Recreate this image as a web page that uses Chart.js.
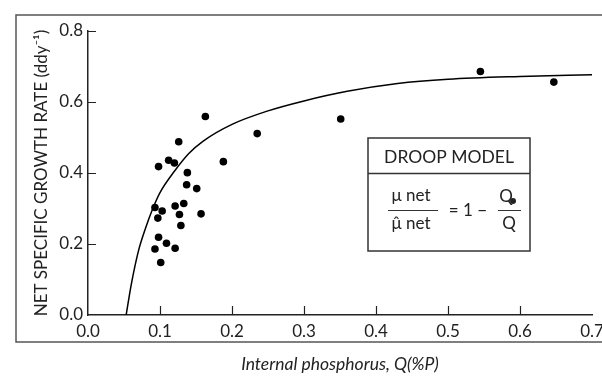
<!DOCTYPE html>
<html>
<head>
<meta charset="utf-8">
<script src="https://cdn.jsdelivr.net/npm/chart.js@4"></script>
<style>
  html, body { margin: 0; padding: 0; background: #fff; }
  #wrap { width: 602px; height: 377px; }
</style>
</head>
<body>
<div id="wrap"><canvas id="droopChart" width="602" height="377"></canvas></div>
<script>
// measured points: internal P (%P) vs net specific growth rate
const fosforoQ = [0.163, 0.126, 0.112, 0.120, 0.098, 0.138, 0.137, 0.151, 0.093, 0.103, 0.121, 0.133, 0.097,
    0.127, 0.157, 0.129, 0.098, 0.109, 0.093, 0.121, 0.101, 0.188, 0.235, 0.351, 0.545, 0.647];
const taxaCrescimento = [0.559, 0.488, 0.436, 0.428, 0.418, 0.401, 0.367, 0.356, 0.303, 0.293, 0.307, 0.314, 0.273,
    0.283, 0.285, 0.252, 0.219, 0.202, 0.186, 0.188, 0.148, 0.432, 0.511, 0.552, 0.686, 0.656];

// droop curve
const curvaQ = [0.053, 0.06, 0.07, 0.08, 0.09, 0.10, 0.12, 0.14, 0.16, 0.20, 0.25, 0.30, 0.36, 0.43, 0.50, 0.60, 0.70];
const curvaMu = [0.0, 0.085, 0.18, 0.245, 0.30, 0.345, 0.405, 0.455, 0.49, 0.537, 0.575, 0.603, 0.63, 0.652, 0.664, 0.672, 0.677];

const ticksX = [0.1, 0.2, 0.3, 0.4, 0.5, 0.6];
const ticksY = [0.2, 0.4, 0.6, 0.8];

const tituloX = 'Internal phosphorus, Q(%P)';
const tituloY = 'NET SPECIFIC GROWTH RATE (ddy\u207B\u00B9)';

const FONTE = 'Lato, "Open Sans", sans-serif';
const COR_TEXTO = '#222';

// frame + inward ticks + droop model box
const pluginDesenho = {
    id: 'desenho',
    beforeDraw(chart) {
        const ctx = chart.ctx;
        ctx.save();
        ctx.fillStyle = '#fff';
        ctx.fillRect(0, 0, chart.width, chart.height);
        ctx.strokeStyle = '#555';
        ctx.lineWidth = 1.5;
        ctx.beginPath();
        ctx.moveTo(chart.width, 15);
        ctx.lineTo(16, 15);
        ctx.lineTo(16, 342);
        ctx.lineTo(chart.width, 342);
        ctx.stroke();
        ctx.restore();
    },
    afterDraw(chart) {
        const ctx = chart.ctx;
        const area = chart.chartArea;
        const x = chart.scales.x, y = chart.scales.y;
        ctx.save();
        ctx.strokeStyle = '#222';
        ctx.lineWidth = 1.2;
        ctx.beginPath();
        ticksX.forEach(v => {
            const px = Math.round(x.getPixelForValue(v)) + 0.5;
            ctx.moveTo(px, area.bottom);
            ctx.lineTo(px, area.bottom - 9);
        });
        ticksY.forEach(v => {
            const py = Math.round(y.getPixelForValue(v)) + 0.5;
            ctx.moveTo(area.left, py);
            ctx.lineTo(area.left + 8, py);
        });
        ctx.stroke();

        // caixa do modelo
        const bx = 368, by = 138, bw = 162, bh = 113;
        ctx.fillStyle = '#fff';
        ctx.fillRect(bx, by, bw, bh);
        ctx.strokeStyle = '#333';
        ctx.lineWidth = 1.5;
        ctx.strokeRect(bx, by, bw, bh);
        ctx.beginPath();
        ctx.moveTo(bx, 173.5);
        ctx.lineTo(bx + bw, 173.5);
        ctx.stroke();

        ctx.fillStyle = COR_TEXTO;
        ctx.textAlign = 'center';
        ctx.textBaseline = 'middle';
        ctx.font = '17.5px ' + FONTE;
        ctx.fillText('DROOP MODEL', 449, 157);

        ctx.font = '17px ' + FONTE;
        ctx.fillText('\u03BC net', 411, 196);
        ctx.fillText('\u03BC\u0302 net', 411, 224);
        ctx.fillText('= 1 \u2212', 468, 211);
        ctx.fillText('Q', 506, 197);
        ctx.fillText('Q', 509, 224);
        ctx.beginPath();
        ctx.arc(513, 201, 3, 0, Math.PI * 2);
        ctx.fill();

        ctx.lineWidth = 1.2;
        ctx.strokeStyle = '#333';
        ctx.beginPath();
        ctx.moveTo(388, 210.5);
        ctx.lineTo(438, 210.5);
        ctx.moveTo(498, 210.5);
        ctx.lineTo(521, 210.5);
        ctx.stroke();
        ctx.restore();
    }
};

function montarGrafico() {
    const ctx = document.getElementById('droopChart').getContext('2d');
    const pontos = fosforoQ.map((q, i) => ({ x: q, y: taxaCrescimento[i] }));
    const curva = curvaQ.map((q, i) => ({ x: q, y: curvaMu[i] }));

    new Chart(ctx, {
        type: 'scatter',
        data: {
            datasets: [{
                label: 'Dados',
                data: pontos,
                backgroundColor: '#000',
                borderColor: '#000',
                pointRadius: 3.8,
                borderWidth: 0
            }, {
                label: 'Droop',
                data: curva,
                showLine: true,
                borderColor: '#000',
                borderWidth: 1.5,
                pointRadius: 0,
                cubicInterpolationMode: 'monotone',
                fill: false
            }]
        },
        options: {
            responsive: false,
            animation: false,
            events: [],
            layout: { padding: { top: 31, right: 10, left: 0, bottom: 0 } },
            plugins: {
                legend: { display: false },
                tooltip: { enabled: false }
            },
            scales: {
                x: {
                    type: 'linear',
                    min: 0,
                    max: 0.7,
                    afterFit: s => { s.height = 62; s.paddingRight = 8; },
                    grid: { drawOnChartArea: false, drawTicks: false },
                    border: { display: true, color: '#222', width: 1.5 },
                    ticks: {
                        stepSize: 0.1,
                        padding: 6,
                        color: COR_TEXTO,
                        font: { family: FONTE, size: 17 },
                        callback: v => v.toFixed(1)
                    },
                    title: {
                        display: true,
                        text: tituloX,
                        color: COR_TEXTO,
                        font: { family: FONTE, size: 17.5, style: 'italic' },
                        padding: { top: 0, bottom: 2 }
                    }
                },
                y: {
                    type: 'linear',
                    min: 0,
                    max: 0.8,
                    afterFit: s => { s.width = 88; },
                    grid: { drawOnChartArea: false, drawTicks: false },
                    border: { display: true, color: '#222', width: 1.5 },
                    ticks: {
                        stepSize: 0.2,
                        padding: 5,
                        color: COR_TEXTO,
                        font: { family: FONTE, size: 17 },
                        callback: v => v.toFixed(1)
                    },
                    title: {
                        display: true,
                        text: tituloY,
                        color: COR_TEXTO,
                        font: { family: FONTE, size: 17 },
                        padding: { top: 31, bottom: 0 }
                    }
                }
            }
        },
        plugins: [pluginDesenho]
    });
}

montarGrafico();
</script>
</body>
</html>
